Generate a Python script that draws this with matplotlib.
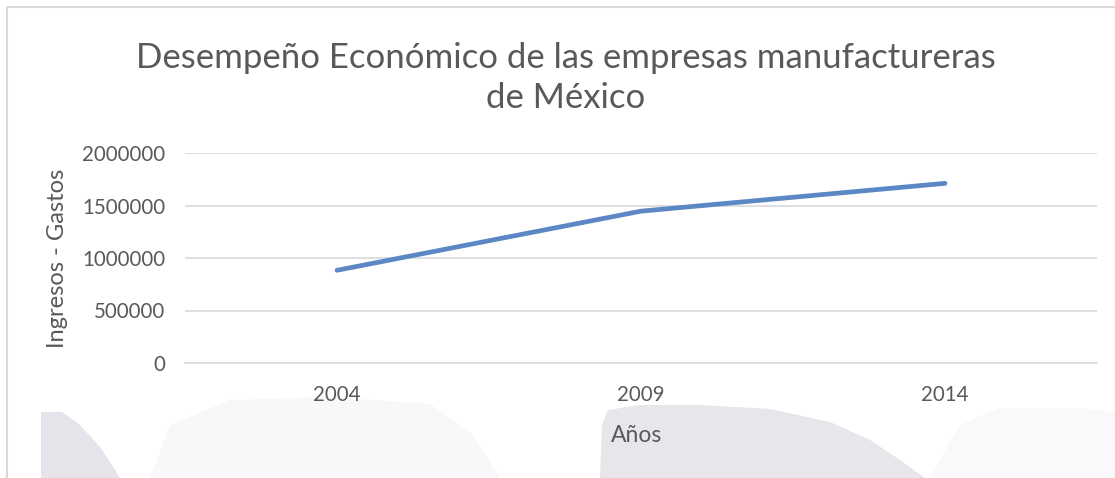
import matplotlib.pyplot as plt
from matplotlib.patches import Polygon, Rectangle

years = ['2004', '2009', '2014']
valores = [883000, 1446000, 1711000]
y_ticks = [0, 500000, 1000000, 1500000, 2000000]

W, H = 1115, 478
plt.rcParams['font.family'] = ['Lato', 'DejaVu Sans']
gris = '#595959'

fig = plt.figure(figsize=(W / 100, H / 100), dpi=100)


def px(x, y):
    return x / W, 1 - y / H


# marca de agua de fondo
fondo = fig.add_axes([0, 0, 1, 1], zorder=-5)
fondo.set_xlim(0, W)
fondo.set_ylim(H, 0)
fondo.axis('off')
fondo.add_patch(Polygon([(150, 478), (170, 425), (230, 400), (330, 397), (430, 404),
                         (470, 432), (500, 478)], color='#f8f8fa', lw=0))
fondo.add_patch(Polygon([(930, 478), (960, 425), (1000, 408), (1080, 408), (1115, 412),
                         (1115, 478)], color='#f9f9fb', lw=0))
fondo.add_patch(Polygon([(41, 478), (41, 412), (62, 412), (80, 425), (100, 447),
                         (112, 465), (120, 478)], color='#e4e4ea', lw=0))
fondo.add_patch(Polygon([(600, 478), (602, 425), (608, 410), (640, 405), (700, 405),
                         (770, 409), (830, 422), (870, 440), (900, 460), (925, 478)],
                        color='#e6e6eb', lw=0))
fondo.add_patch(Rectangle((7, 7), 1200, 600, fill=False, ec='#d9d9d9', lw=1.5))

ax = fig.add_axes([185 / W, (H - 363) / H, (1097 - 185) / W, 210 / H])
ax.patch.set_alpha(0)
x = range(len(years))
ax.plot(x, valores, color='#5b87c5', lw=3.4, solid_capstyle='round', zorder=3)

ax.set_xlim(-0.5, len(years) - 0.5)
ax.set_ylim(0, 2000000)
ax.set_yticks(y_ticks)
ax.set_yticklabels([str(v) for v in y_ticks])
ax.set_xticks(list(x))
ax.set_xticklabels(years)
ax.grid(axis='y', color='#d9d9d9', lw=1.2)
for s in ['top', 'right', 'left']:
    ax.spines[s].set_visible(False)
ax.spines['bottom'].set_color('#d9d9d9')
ax.spines['bottom'].set_linewidth(1.2)
ax.tick_params(length=0, colors=gris, labelsize=14.8)
ax.tick_params(axis='y', pad=14)
ax.tick_params(axis='x', pad=16)

fig.text(*px(58, 258), 'Ingresos - Gastos', rotation=90, ha='center', va='center',
         color=gris, fontsize=17)
fig.text(*px(637, 435), 'Años', ha='center', va='center', color=gris, fontsize=16.5)
fig.text(*px(566, 78), 'Desempeño Económico de las empresas manufactureras\nde México',
         ha='center', va='center', color=gris, fontsize=25, linespacing=1.3)

fig.savefig('out.png', dpi=100)
